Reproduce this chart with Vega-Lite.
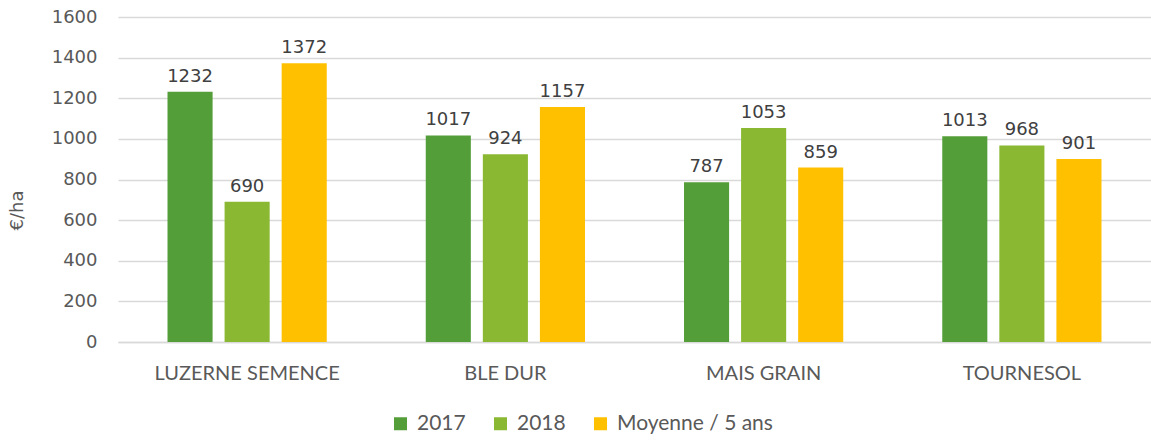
{
  "$schema": "https://vega.github.io/schema/vega-lite/v6.json",
  "width": 1033,
  "height": 325,
  "autosize": {"type": "none"},
  "padding": {"left": 118, "top": 17, "right": 0, "bottom": 99},
  "background": "white",
  "config": {"view": {"stroke": null}},
  "data": {
    "values": [
      {"culture": "LUZERNE SEMENCE", "serie": "2017", "valeur": 1232},
      {"culture": "LUZERNE SEMENCE", "serie": "2018", "valeur": 690},
      {"culture": "LUZERNE SEMENCE", "serie": "Moyenne / 5 ans", "valeur": 1372},
      {"culture": "BLE DUR", "serie": "2017", "valeur": 1017},
      {"culture": "BLE DUR", "serie": "2018", "valeur": 924},
      {"culture": "BLE DUR", "serie": "Moyenne / 5 ans", "valeur": 1157},
      {"culture": "MAIS GRAIN", "serie": "2017", "valeur": 787},
      {"culture": "MAIS GRAIN", "serie": "2018", "valeur": 1053},
      {"culture": "MAIS GRAIN", "serie": "Moyenne / 5 ans", "valeur": 859},
      {"culture": "TOURNESOL", "serie": "2017", "valeur": 1013},
      {"culture": "TOURNESOL", "serie": "2018", "valeur": 968},
      {"culture": "TOURNESOL", "serie": "Moyenne / 5 ans", "valeur": 901}
    ]
  },
  "encoding": {
    "x": {
      "field": "culture",
      "type": "nominal",
      "sort": null,
      "scale": {"paddingInner": 0.337, "paddingOuter": 0.1685},
      "axis": {
        "title": null,
        "labelAngle": 0,
        "labelLimit": 400,
        "ticks": false,
        "domain": true,
        "domainColor": "#d9d9d9",
        "domainWidth": 1.5,
        "labelFont": "Lato",
        "labelFontSize": 20,
        "labelColor": "#595959",
        "labelPadding": 21
      }
    },
    "xOffset": {
      "field": "serie",
      "type": "nominal",
      "sort": null,
      "scale": {"paddingInner": 0.21, "paddingOuter": 0.105}
    },
    "y": {
      "field": "valeur",
      "type": "quantitative",
      "scale": {"domain": [0, 1600], "nice": false},
      "axis": {
        "values": [0, 200, 400, 600, 800, 1000, 1200, 1400, 1600],
        "format": "d",
        "title": "€/ha",
        "titleFont": "DejaVu Sans",
        "titleFontSize": 18,
        "titleFontWeight": "normal",
        "titleColor": "#595959",
        "titleX": -92,
        "titleY": 193,
        "domain": false,
        "ticks": false,
        "grid": true,
        "gridColor": "#d9d9d9",
        "gridWidth": 1.5,
        "labelFont": "DejaVu Sans",
        "labelFontSize": 18,
        "labelColor": "#595959",
        "labelPadding": 21
      }
    }
  },
  "layer": [
    {
      "mark": {"type": "bar"},
      "encoding": {
        "color": {
          "field": "serie",
          "type": "nominal",
          "sort": null,
          "scale": {
            "domain": ["2017", "2018", "Moyenne / 5 ans"],
            "range": ["#549E39", "#8AB833", "#FFC000"]
          },
          "legend": {
            "title": null,
            "orient": "none",
            "direction": "horizontal",
            "legendX": 272,
            "legendY": 396,
            "symbolType": "square",
            "symbolSize": 169,
            "symbolStrokeWidth": 0,
            "labelFont": "Lato",
            "labelFontSize": 21,
            "labelLimit": 400,
            "labelColor": "#595959",
            "labelOffset": 6,
            "columnPadding": 24
          }
        }
      }
    },
    {
      "mark": {
        "type": "text",
        "baseline": "bottom",
        "dy": -6,
        "font": "DejaVu Sans",
        "fontSize": 18,
        "color": "#404040"
      },
      "encoding": {
        "text": {"field": "valeur", "type": "quantitative"}
      }
    }
  ]
}
